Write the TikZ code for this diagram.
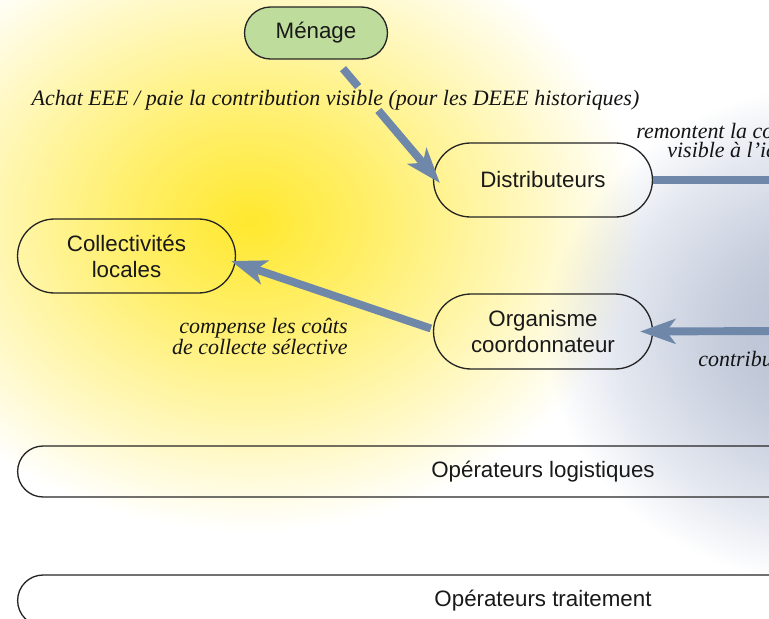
\documentclass[tikz,border=0pt]{standalone}
\usepackage{fontspec}
\setmainfont{Liberation Serif}
\setsansfont{Liberation Sans}
\usetikzlibrary{arrows.meta,shapes.misc,calc}
\definecolor{yA}{HTML}{FFE82E}
\definecolor{yB}{HTML}{FFEF6A}
\definecolor{yC}{HTML}{FFF7B8}
\definecolor{bA}{HTML}{B2BBCF}
\definecolor{bB}{HTML}{C6CDDC}
\definecolor{bC}{HTML}{E4E8F0}
\definecolor{arrowc}{HTML}{6F87A9}
\definecolor{menagec}{HTML}{BEDD9C}
\definecolor{bordc}{HTML}{252525}
\pgfdeclareradialshading{yglow}{\pgfpoint{0bp}{0bp}}{color(0bp)=(yA); color(8bp)=(yB); color(17bp)=(yC); color(25bp)=(white); color(50bp)=(white)}
\pgfdeclareradialshading{bglow}{\pgfpoint{0bp}{0bp}}{color(0bp)=(bA); color(10bp)=(bB); color(19bp)=(bC); color(25bp)=(white); color(50bp)=(white)}
\begin{document}
\begin{tikzpicture}[x=0.02cm,y=-0.02cm,
  pill/.style={draw=bordc, line width=0.75pt, rounded rectangle, inner sep=2pt,
    font=\sffamily\fontsize{12.7}{14.7}\selectfont, align=center, text=black!90},
  lab/.style={font=\itshape\fontsize{12.5}{11.9}\selectfont, inner sep=0pt, text=black!92},
  flow/.style={draw=arrowc, line width=4.5pt},
  flowtip/.style={flow, -{Stealth[length=20pt,width=14pt,inset=5pt]}}]
\useasboundingbox (0,0) rectangle (769,619);
\clip (0,0) rectangle (769,619);
\fill[white] (0,0) rectangle (769,619);
\shade[shading=yglow] (250,222) ellipse [x radius=390, y radius=310];
\begin{scope}[blend mode=multiply]
\shade[shading=bglow] (835,335) ellipse [x radius=290, y radius=250];
\end{scope}

\node[pill, fill=menagec, minimum width=3cm, minimum height=1.04cm] (menage) at (316,33) {Ménage};
\node[pill, minimum width=4.52cm, minimum height=1.48cm] (distrib) at (543,180) {Distributeurs};
\node[pill, minimum width=4.52cm, minimum height=1.5cm] (organ) at (543,331.5) {Organisme\\coordonnateur};
\node[pill, minimum width=4.5cm, minimum height=1.48cm] (coll) at (126.5,256) {Collectivités\\locales};
\node[pill, minimum width=21.16cm, minimum height=1.02cm] (oplog) at (543,471.5) {Opérateurs logistiques};
\node[pill, minimum width=21.16cm, minimum height=1.02cm] (optrait) at (543,600.5) {Opérateurs traitement};

\coordinate (a1s) at ($(menage.south)+(27,9)$);
\coordinate (a1e) at ($(distrib.west)+(7,3)$);
\coordinate (r1) at (780,180);
\coordinate (r2) at (780,331);
\draw[flow] (a1s) -- ($(a1s)!0.157!(a1e)$);
\draw[flowtip] ($(a1s)!0.365!(a1e)$) -- (a1e);
\draw[flow] (distrib.east) -- (r1);
\draw[flowtip] (r2) -- ($(organ.east)+(-13,0)$);
\draw[flowtip] ($(organ.west)+(-2,-3)$) -- ($(coll.east)+(-5,5)$);

\node[lab, anchor=base] (l1) at (335.5,105) {Achat EEE / paie la contribution visible (pour les DEEE historiques)};
\node[lab, anchor=base west] (l2a) at (636,138) {remontent la co};
\node[lab, anchor=base west] (l2b) at (667,157) {visible à l’id};
\node[lab, anchor=base west] (l3) at (698,366) {contribu};
\node[lab, align=right, anchor=north east] (l4) at (348,318) {compense les coûts\\de collecte sélective};
\end{tikzpicture}
\end{document}
